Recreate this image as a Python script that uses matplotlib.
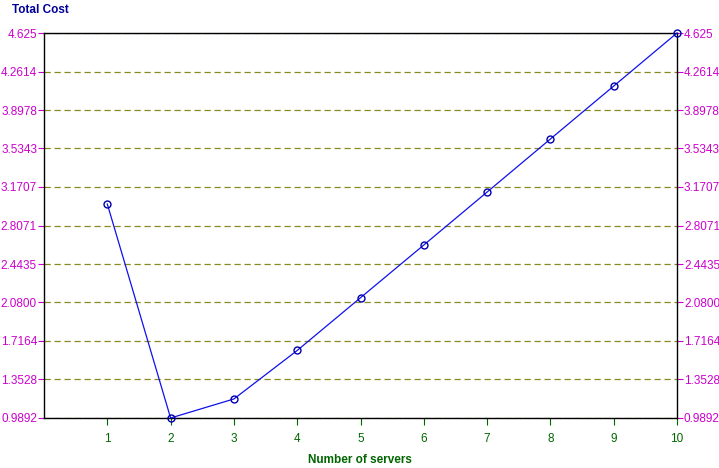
import matplotlib
matplotlib.use("Agg")
import matplotlib.pyplot as plt

plt.rcParams["font.family"] = ["Liberation Sans", "DejaVu Sans"]

servers = [1, 2, 3, 4, 5, 6, 7, 8, 9, 10]
total_cost = [3.010, 0.9892, 1.169, 1.627, 2.125, 2.623, 3.123, 3.624, 4.124, 4.625]
y_ticks = [0.9892, 1.3528, 1.7164, 2.0800, 2.4435, 2.8071, 3.1707, 3.5343, 3.8978, 4.2614, 4.625]
y_tick_labels = ["0.9892", "1.3528", "1.7164", "2.0800", "2.4435", "2.8071",
                 "3.1707", "3.5343", "3.8978", "4.2614", "4.625"]
x_ticks = [1, 2, 3, 4, 5, 6, 7, 8, 9, 10]

W, H = 719, 468
fig = plt.figure(figsize=(W / 100, H / 100), dpi=100)
ax = fig.add_axes([44 / W, (H - 418) / H, (677 - 44) / W, (418 - 33) / H])

ax.plot(servers, total_cost, color="#1010EE", lw=0.9, marker="o", ms=5,
        mfc="none", mec="#0000AA", mew=1.0, zorder=3, clip_on=False)

ax.set_xlim(0, 10)
ax.set_ylim(y_ticks[0], y_ticks[-1])
ax.set_yticks(y_ticks)
ax.set_yticklabels(y_tick_labels)
ax.set_xticks(x_ticks)
ax.set_xticklabels([str(x) for x in x_ticks])

ax.grid(axis="y", color="#8A8A20", ls=(0, (5, 3)), lw=0.9)
ax.grid(axis="x", visible=False)

ax.tick_params(axis="y", which="both", left=True, right=True, labelleft=True,
               labelright=True, colors="#CC00CC", labelcolor="#CC00CC",
               length=4, width=0.8, labelsize=8.5, pad=1)
ax.tick_params(axis="x", colors="#006600", labelcolor="#006600", length=5,
               width=0.8, labelsize=8.5, pad=6, direction="out")
for s in ax.spines.values():
    s.set_color("#000000")
    s.set_linewidth(1.0)

fig.text(12 / W, 1 - 10 / H, "Total Cost", color="#000099", fontsize=8.5,
         fontweight="bold", ha="left", va="center")
fig.text(360 / W, 1 - 460 / H, "Number of servers", color="#006600", fontsize=8.5,
         fontweight="bold", ha="center", va="center")

fig.savefig("out.png", dpi=100)
